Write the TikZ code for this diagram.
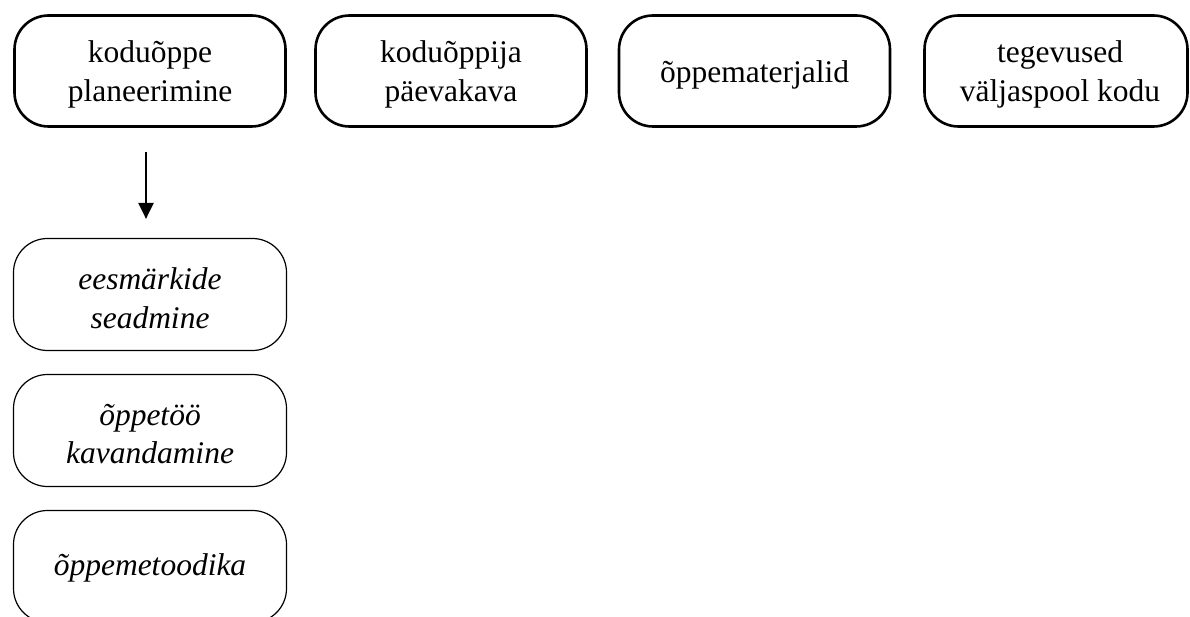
\documentclass[tikz,border=0pt]{standalone}
\usepackage{fontspec}
\setmainfont{Liberation Serif}
\usetikzlibrary{arrows.meta}
\tikzset{
  topbox/.style={draw=black, line width=2.6pt, rounded corners=34pt, inner sep=0pt,
    minimum width=271pt, minimum height=111pt},
  subbox/.style={draw=black, line width=1.2pt, rounded corners=34pt, inner sep=0pt,
    minimum width=273pt, minimum height=112pt},
  toptext/.style={inner sep=0pt, align=center, font=\fontsize{31.5}{39.5}\selectfont},
  subtext/.style={inner sep=0pt, align=center, font=\fontsize{31.5}{38.5}\selectfont\itshape},
  arr/.style={line width=2.4pt, -{Triangle[length=16pt,width=15pt]}}
}
\begin{document}
\begin{tikzpicture}[x=1pt,y=-1pt]
\useasboundingbox (0,0) rectangle (1190,617);
\clip (0,0) rectangle (1190,617);
\node[topbox] (b1) at (150,71) {};
\node[topbox] (b2) at (451,71) {};
\node[topbox] (b3) at (754.5,71) {};
\node[topbox, minimum width=263pt] (b4) at (1056,71) {};
\node[toptext] (t1) at ([yshift=-3.5pt]b1.center) {koduõppe\\planeerimine};
\node[toptext] (t2) at ([yshift=-3.5pt]b2.center) {koduõppija\\päevakava};
\node[toptext] (t3) at ([yshift=-3.5pt]b3.center) {õppematerjalid};
\node[toptext] (t4) at ([xshift=4pt,yshift=-3.5pt]b4.center) {tegevused\\väljaspool kodu};
\node[subbox] (s1) at (150,294.5) {};
\node[subbox] (s2) at (150,430.5) {};
\node[subbox] (s3) at (150,566.5) {};
\node[subtext] (u1) at ([yshift=-3.5pt]s1.center) {eesmärkide\\seadmine};
\node[subtext] (u2) at ([yshift=-3.5pt]s2.center) {õppetöö\\kavandamine};
\node[subtext] (u3) at ([yshift=-1.5pt]s3.center) {õppemetoodika};
\draw[arr, shorten <=24pt, shorten >=19pt] ([xshift=-4pt]b1.south) -- ([xshift=-4pt]s1.north);
\end{tikzpicture}
\end{document}
